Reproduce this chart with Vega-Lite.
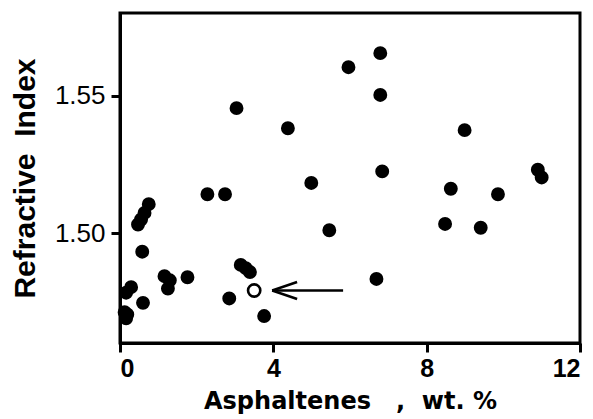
{
  "$schema": "https://vega.github.io/schema/vega-lite/v6.json",
  "autosize": "none",
  "width": 460,
  "height": 330,
  "padding": {"left": 120, "top": 13, "right": 13, "bottom": 76},
  "background": "white",
  "config": {
    "view": {"stroke": "black", "strokeWidth": 3},
    "axis": {
      "domainColor": "black", "domainWidth": 3, "tickColor": "black", "tickWidth": 3, "tickSize": 9,
      "grid": false, "labelColor": "black", "titleColor": "black", "labelFont": "Liberation Sans", "titleFont": "Liberation Sans"
    }
  },
  "datasets": {
    "pts": [
      {"a": 6.79, "ri": 1.5654, "kind": "filled"},
      {"a": 5.96, "ri": 1.5603, "kind": "filled"},
      {"a": 6.79, "ri": 1.5502, "kind": "filled"},
      {"a": 3.04, "ri": 1.5454, "kind": "filled"},
      {"a": 4.38, "ri": 1.5381, "kind": "filled"},
      {"a": 8.99, "ri": 1.5374, "kind": "filled"},
      {"a": 6.84, "ri": 1.5224, "kind": "filled"},
      {"a": 10.90, "ri": 1.5230, "kind": "filled"},
      {"a": 11.00, "ri": 1.5202, "kind": "filled"},
      {"a": 4.99, "ri": 1.5182, "kind": "filled"},
      {"a": 8.63, "ri": 1.5161, "kind": "filled"},
      {"a": 9.86, "ri": 1.5141, "kind": "filled"},
      {"a": 2.28, "ri": 1.5141, "kind": "filled"},
      {"a": 2.74, "ri": 1.5141, "kind": "filled"},
      {"a": 0.75, "ri": 1.5105, "kind": "filled"},
      {"a": 0.64, "ri": 1.5073, "kind": "filled"},
      {"a": 0.55, "ri": 1.5049, "kind": "filled"},
      {"a": 0.47, "ri": 1.5031, "kind": "filled"},
      {"a": 5.46, "ri": 1.5010, "kind": "filled"},
      {"a": 8.48, "ri": 1.5033, "kind": "filled"},
      {"a": 9.41, "ri": 1.5019, "kind": "filled"},
      {"a": 0.58, "ri": 1.4932, "kind": "filled"},
      {"a": 3.15, "ri": 1.4884, "kind": "filled"},
      {"a": 3.28, "ri": 1.4872, "kind": "filled"},
      {"a": 3.39, "ri": 1.4858, "kind": "filled"},
      {"a": 1.16, "ri": 1.4843, "kind": "filled"},
      {"a": 1.30, "ri": 1.4828, "kind": "filled"},
      {"a": 1.25, "ri": 1.4798, "kind": "filled"},
      {"a": 1.76, "ri": 1.4839, "kind": "filled"},
      {"a": 6.69, "ri": 1.4833, "kind": "filled"},
      {"a": 0.29, "ri": 1.4803, "kind": "filled"},
      {"a": 0.16, "ri": 1.4783, "kind": "filled"},
      {"a": 0.60, "ri": 1.4746, "kind": "filled"},
      {"a": 2.85, "ri": 1.4762, "kind": "filled"},
      {"a": 3.76, "ri": 1.4698, "kind": "filled"},
      {"a": 0.19, "ri": 1.4704, "kind": "filled"},
      {"a": 0.16, "ri": 1.4690, "kind": "filled"},
      {"a": 0.12, "ri": 1.4712, "kind": "filled"},
      {"a": 3.50, "ri": 1.4791, "kind": "open"}
    ],
    "arrow": [
      {"x": 5.82, "y": 1.4791, "x2": 3.97, "y2": 1.4791},
      {"x": 3.97, "y": 1.4791, "x2": 4.62, "y2": 1.4822},
      {"x": 3.97, "y": 1.4791, "x2": 4.62, "y2": 1.4760}
    ]
  },
  "layer": [
    {
      "data": {"name": "arrow"},
      "mark": {"type": "rule", "color": "black", "strokeWidth": 2.5},
      "encoding": {
        "x": {"field": "x", "type": "quantitative", "scale": {"domain": [0, 12]}},
        "y": {"field": "y", "type": "quantitative", "scale": {"domain": [1.46, 1.58]}},
        "x2": {"field": "x2"},
        "y2": {"field": "y2"}
      }
    },
    {
      "data": {"name": "pts"},
      "transform": [{"filter": "datum.kind === 'filled'"}],
      "mark": {"type": "point", "shape": "circle", "size": 130, "strokeWidth": 2.5, "opacity": 1, "fill": "black", "stroke": "black", "filled": true},
      "encoding": {
        "x": {
          "field": "a", "type": "quantitative",
          "scale": {"domain": [0, 12], "nice": false, "zero": false},
          "axis": {
            "values": [0, 4, 8, 12], "labelFontSize": 25, "labelFontWeight": "bold", "labelPadding": 4,
            "title": "Asphaltenes\u00a0\u00a0\u00a0,\u00a0\u00a0wt. %", "titleFont": "DejaVu Sans", "titleFontSize": 24, "titleFontWeight": "bold", "titlePadding": 8
          }
        },
        "y": {
          "field": "ri", "type": "quantitative",
          "scale": {"domain": [1.46, 1.58], "nice": false, "zero": false},
          "axis": {
            "values": [1.5, 1.55], "format": ".2f", "labelFontSize": 26, "labelFontWeight": "normal", "labelPadding": 6,
            "title": "Refractive\u00a0\u00a0Index", "titleFontSize": 30, "titleFontWeight": "bold", "titlePadding": 14
          }
        }
      }
    },
    {
      "data": {"name": "pts"},
      "transform": [{"filter": "datum.kind === 'open'"}],
      "mark": {"type": "point", "shape": "circle", "size": 150, "strokeWidth": 2.6, "opacity": 1, "fill": "white", "stroke": "black", "filled": false},
      "encoding": {
        "x": {"field": "a", "type": "quantitative"},
        "y": {"field": "ri", "type": "quantitative"}
      }
    }
  ]
}
